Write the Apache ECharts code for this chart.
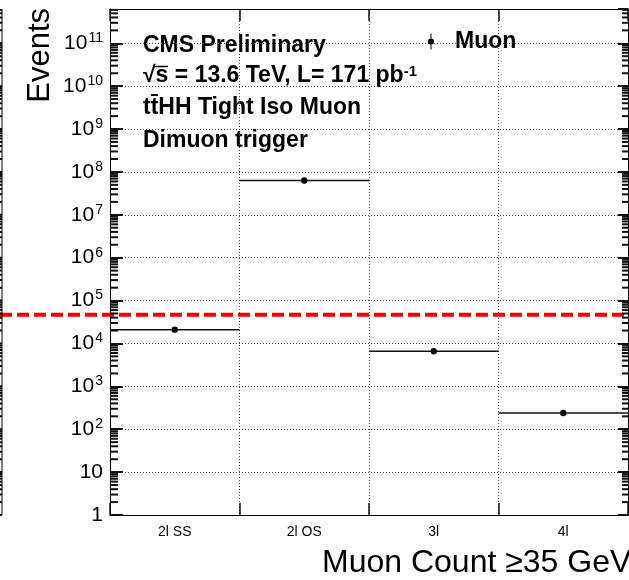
<!DOCTYPE html>
<html>
<head>
<meta charset="utf-8">
<script src="https://cdn.jsdelivr.net/npm/echarts@6/dist/echarts.min.js"></script>
<style>
  html, body { margin: 0; padding: 0; background: #fff; }
  #chart { width: 629px; height: 580px; }
</style>
</head>
<body>
<div id="chart"></div>
<script>
// ---- data ----
const categories = ['2l SS', '2l OS', '3l', '4l'];
const muonEvents = [2.1e4, 6.3e7, 6.6e3, 240];
const seriesName = 'Muon';
const thresholdValue = 4.7e4;
const yMin = 1;
const yMax = 6.3e11;
const infoLines = [
  'CMS Preliminary',
  '√s = 13.6 TeV, L= 171 pb{sup|-1}',
  'tt\u0304HH Tight Iso Muon',
  'Dimuon trigger'
];
const xTitle = 'Muon Count ≥35 GeV';
const yTitle = 'Events';

// ---- axis decoration ticks (log minor ticks) ----
const minorTickValues = [];
const majorTickValues = [];
for (let k = 0; k <= 12; k++) {
  const d = Math.pow(10, k);
  if (d <= yMax) majorTickValues.push(d);
  for (let m = 2; m <= 9; m++) {
    if (m * d <= yMax) minorTickValues.push(m * d);
  }
}

const FONT = '"Liberation Sans", Arial, Helvetica, sans-serif';
const gridStyle = { color: '#444', width: 1, type: [1, 2] };
const tickColor = '#111';

const chart = echarts.init(document.getElementById('chart'), null, { renderer: 'canvas' });

const textGraphics = [
  {
    type: 'text', x: 40, y: 8, rotation: Math.PI / 2,
    style: { text: yTitle, font: '31px ' + FONT, fill: '#000', align: 'right', verticalAlign: 'middle' }
  },
  {
    type: 'text', x: 322, y: 563,
    style: { text: xTitle, font: '32px ' + FONT, fill: '#000', align: 'left', verticalAlign: 'middle' }
  },
  {
    type: 'text', x: 143, y: 46,
    style: { text: infoLines[0], font: 'bold 23px ' + FONT, fill: '#000', align: 'left', verticalAlign: 'middle' }
  },
  {
    type: 'text', x: 143, y: 76,
    style: {
      text: infoLines[1], font: 'bold 23px ' + FONT, fill: '#000', align: 'left', verticalAlign: 'middle',
      rich: { sup: { fontFamily: FONT, fontSize: 15, fontWeight: 'bold', fill: '#000', verticalAlign: 'top' } }
    }
  },
  // overline of the square root sign
  { type: 'line', shape: { x1: 153, y1: 66.5, x2: 168, y2: 66.5 }, style: { stroke: '#000', lineWidth: 1.5 } },
  {
    type: 'text', x: 143, y: 108,
    style: { text: infoLines[2], font: 'bold 23px ' + FONT, fill: '#000', align: 'left', verticalAlign: 'middle' }
  },
  {
    type: 'text', x: 143, y: 141,
    style: { text: infoLines[3], font: 'bold 23px ' + FONT, fill: '#000', align: 'left', verticalAlign: 'middle' }
  }
];

const option = {
  animation: false,
  backgroundColor: '#fff',
  textStyle: { fontFamily: FONT },
  grid: { left: 110, right: 1, top: 9, bottom: 65, containLabel: false },
  legend: {
    data: [seriesName],
    left: 423,
    top: 25,
    itemWidth: 6,
    itemHeight: 16,
    icon: 'path://M3.5,0L4.5,0L4.5,16L3.5,16Z M4,5A3,3 0 1 1 4,11A3,3 0 1 1 4,5Z',
    itemStyle: { color: '#000' },
    textStyle: { fontFamily: FONT, fontSize: 23, fontWeight: 'bold', color: '#000', padding: [0, 0, 0, 16], lineHeight: 23 },
    selectedMode: false
  },
  xAxis: [
    {
      type: 'category',
      data: categories,
      position: 'bottom',
      boundaryGap: true,
      axisLine: { show: true, lineStyle: { color: '#000', width: 1 } },
      axisTick: { show: true, inside: true, length: 12, lineStyle: { color: tickColor, width: 1.5 } },
      axisLabel: { fontFamily: FONT, fontSize: 14, color: '#000', margin: 10 },
      splitLine: { show: true, interval: 0, lineStyle: gridStyle }
    },
    {
      type: 'category',
      data: categories,
      position: 'top',
      boundaryGap: true,
      axisLine: { show: true, lineStyle: { color: '#000', width: 1 } },
      axisTick: { show: true, inside: true, length: 12, lineStyle: { color: tickColor, width: 1.5 } },
      axisLabel: { show: false },
      splitLine: { show: false }
    }
  ],
  yAxis: [
    {
      type: 'log',
      logBase: 10,
      min: yMin,
      max: yMax,
      interval: 1,
      position: 'left',
      axisLine: { show: true, lineStyle: { color: '#000', width: 1 } },
      axisTick: { show: true, inside: true, length: 13, lineStyle: { color: tickColor, width: 2 } },
      axisLabel: {
        showMaxLabel: false,
        margin: 7,
        fontFamily: FONT,
        fontSize: 21,
        color: '#000',
        formatter: function (v) {
          const e = Math.round(Math.log10(v));
          if (e === 0) return '1';
          if (e === 1) return '10';
          return '10{sup|' + e + '}';
        },
        rich: {
          sup: { fontFamily: FONT, fontSize: 14, color: '#000', verticalAlign: 'bottom', padding: [0, 0, 10, 1] }
        }
      },
      splitLine: { show: true, lineStyle: gridStyle }
    },
    {
      type: 'log',
      logBase: 10,
      min: yMin,
      max: yMax,
      interval: 1,
      position: 'right',
      axisLine: { show: true, lineStyle: { color: '#000', width: 1 } },
      axisTick: { show: true, inside: true, length: 10, lineStyle: { color: tickColor, width: 2 } },
      axisLabel: { show: false },
      splitLine: { show: false }
    }
  ],
  series: [
    {
      name: seriesName,
      type: 'custom',
      coordinateSystem: 'cartesian2d',
      xAxisIndex: 0, yAxisIndex: 0,
      data: muonEvents.map(function (v, i) { return [i, v]; }),
      encode: { x: 0, y: 1 },
      itemStyle: { color: '#000' },
      z: 5,
      renderItem: function (params, api) {
        const p = api.coord([api.value(0), api.value(1)]);
        const w = api.size([1, 0])[0];
        return {
          type: 'group',
          children: [
            { type: 'line', shape: { x1: p[0] - w / 2, y1: p[1], x2: p[0] + w / 2, y2: p[1] }, style: { stroke: '#111', lineWidth: 1.5 } },
            { type: 'circle', shape: { cx: p[0], cy: p[1], r: 3.2 }, style: { fill: '#000' } }
          ]
        };
      }
    },
    {
      name: 'threshold',
      type: 'custom',
      coordinateSystem: 'cartesian2d',
      xAxisIndex: 0, yAxisIndex: 0,
      data: [[0, thresholdValue]],
      encode: { x: 0, y: 1 },
      clip: false,
      silent: true,
      z: 10,
      renderItem: function (params, api) {
        const y = api.coord([0, api.value(1)])[1];
        return {
          type: 'line',
          shape: { x1: 0, y1: y, x2: api.getWidth(), y2: y },
          style: { stroke: '#ff0000', lineWidth: 4, lineDash: [12, 5] }
        };
      }
    }
  ],
  graphic: textGraphics
};

chart.setOption(option);

// ---- log minor ticks, positioned through the y-axis scale ----
const gridRect = chart.getModel().getComponent('grid', 0).coordinateSystem.getRect();
const xl = gridRect.x, xr = gridRect.x + gridRect.width;
const tickGraphics = [];
function tickLine(x1, x2, y, w) {
  return { type: 'line', z: 50, silent: true, shape: { x1: x1, y1: y, x2: x2, y2: y }, style: { stroke: tickColor, lineWidth: w } };
}
minorTickValues.forEach(function (v) {
  const y = chart.convertToPixel({ yAxisIndex: 0 }, v);
  tickGraphics.push(tickLine(xl, xl + 8, y, 2));
  tickGraphics.push(tickLine(xr - 6, xr, y, 2));
  tickGraphics.push(tickLine(0, 2, y, 2));
});
majorTickValues.forEach(function (v) {
  const y = chart.convertToPixel({ yAxisIndex: 0 }, v);
  tickGraphics.push(tickLine(0, 2, y, 2));
});
tickGraphics.push({
  type: 'line', z: 50, silent: true,
  shape: { x1: 2, y1: gridRect.y, x2: 2, y2: gridRect.y + gridRect.height },
  style: { stroke: '#000', lineWidth: 1 }
});

chart.setOption({ graphic: textGraphics.concat(tickGraphics) });
</script>
</body>
</html>
